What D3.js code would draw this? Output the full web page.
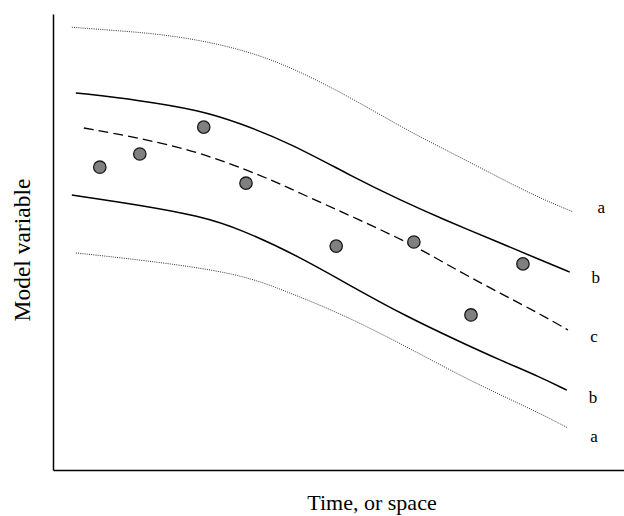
<!DOCTYPE html>
<html>
<head>
<meta charset="utf-8">
<script src="https://cdn.jsdelivr.net/npm/d3@7/dist/d3.min.js"></script>
<style>
  html, body { margin: 0; padding: 0; background: #fff; }
  svg { display: block; }
  text { font-family: "Liberation Serif", "Times New Roman", serif; fill: #000; }
</style>
</head>
<body>
<svg id="chart" width="624" height="516"></svg>
<script>
// ---- data (abstract units: time 0-100, model variable 0-100) ----
const upperA = [[3.3,97.1],[11.7,96.3],[18.7,95.6],[27.5,93.9],[36.3,91.0],[43.3,87.3],[50.3,82.9],[57.3,77.9],[64.3,73.0],[71.3,68.6],[78.3,64.0],[85.3,59.6],[91.1,56.6]];
const upperB = [[4.0,82.7],[15.2,81.1],[25.7,78.9],[32.7,76.1],[41.5,71.7],[52.5,64.3],[60.8,59.2],[68.3,55.0],[78.3,49.8],[85.3,46.1],[90.5,43.4]];
const centreC = [[5.4,75.0],[15.2,72.8],[25.7,69.7],[36.3,64.7],[43.3,60.7],[53.4,55.0],[63.2,49.3],[71.3,43.4],[78.3,38.8],[85.3,34.2],[90.2,30.7]];
const lowerB = [[3.3,60.3],[15.2,58.1],[25.7,55.7],[32.7,52.9],[43.3,46.7],[52.5,40.1],[62.0,33.6],[71.3,28.1],[78.3,24.1],[85.3,20.4],[90.0,17.5]];
const lowerA = [[4.0,47.6],[15.2,46.1],[32.7,43.2],[41.5,38.8],[50.3,34.4],[62.0,27.0],[71.3,20.7],[79.5,15.8],[85.3,12.4],[90.2,9.2]];
const observations = [[8.2,66.4],[15.2,69.3],[26.4,75.2],[33.8,62.9],[49.6,49.1],[63.2,50.0],[73.2,34.0],[82.3,45.2]];
const seriesLabels = ["a","b","c","b","a"];
const xTitle = "Time, or space";
const yTitle = "Model variable";

// ---- drawing ----
const svg = d3.select("#chart");
const x = d3.scaleLinear().domain([0,100]).range([53,624]);
const y = d3.scaleLinear().domain([0,100]).range([470,14]);

const line = d3.line().x(d => x(d[0])).y(d => y(d[1])).curve(d3.curveBasis);

const series = [
  {data: upperA, style: "dot"},
  {data: upperB, style: "solid"},
  {data: centreC, style: "dash"},
  {data: lowerB, style: "solid"},
  {data: lowerA, style: "dot"}
];
const styles = {
  solid: {stroke: "#000", width: 1.5, dash: null},
  dash:  {stroke: "#000", width: 1.3, dash: "10,5"},
  dot:   {stroke: "#333", width: 1, dash: "1,1.2"}
};

series.forEach(s => {
  const st = styles[s.style];
  svg.append("path")
    .attr("d", line(s.data))
    .attr("fill", "none")
    .attr("stroke", st.stroke)
    .attr("stroke-width", st.width)
    .attr("stroke-dasharray", st.dash);
});

// axes (no ticks)
const xAxis = d3.axisBottom(x).tickValues([]).tickSizeOuter(0);
const yAxis = d3.axisLeft(y).tickValues([]).tickSizeOuter(0);
svg.append("g").attr("transform", `translate(0,${y(0)})`).call(xAxis)
  .select(".domain").attr("stroke", "#000").attr("stroke-width", 1.5);
svg.append("g").attr("transform", `translate(${x(0)},0)`).call(yAxis)
  .select(".domain").attr("stroke", "#000").attr("stroke-width", 1.5);

// observations
svg.append("g").selectAll("circle").data(observations).join("circle")
  .attr("cx", d => x(d[0])).attr("cy", d => y(d[1])).attr("r", 6.2)
  .attr("fill", "#808080").attr("stroke", "#1a1a1a").attr("stroke-width", 1.3);

// series labels near line ends
const labelNudge = [[28,1],[26,11],[26,12],[26,13],[26,14]];
series.forEach((s, i) => {
  const end = s.data[s.data.length - 1];
  svg.append("text")
    .attr("x", x(end[0]) + labelNudge[i][0])
    .attr("y", y(end[1]) + labelNudge[i][1])
    .attr("text-anchor", "middle")
    .attr("font-size", 17)
    .text(seriesLabels[i]);
});

// axis titles
svg.append("text").attr("x", 372).attr("y", 510).attr("text-anchor", "middle")
  .attr("font-size", 22).text(xTitle);
svg.append("text").attr("transform", "translate(30,250) rotate(-90)")
  .attr("text-anchor", "middle").attr("font-size", 23.5).text(yTitle);
</script>
</body>
</html>
